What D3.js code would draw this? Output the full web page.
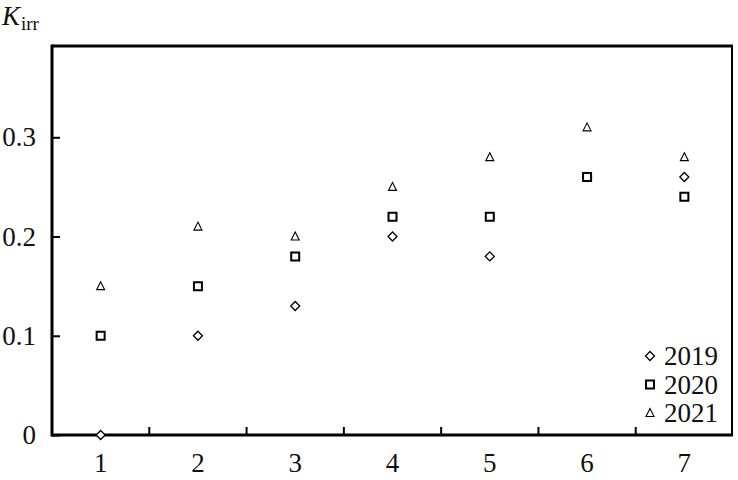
<!DOCTYPE html>
<html>
<head>
<meta charset="utf-8">
<script src="https://cdn.jsdelivr.net/npm/d3@7"></script>
<style>
  body { margin: 0; background: #fff; }
  svg { display: block; font-family: "Liberation Serif", "DejaVu Serif", serif; }
</style>
</head>
<body>
<svg id="chart" width="738" height="480"></svg>
<script>
// data
const categories = ["1", "2", "3", "4", "5", "6", "7"];
const years = ["2019", "2020", "2021"];
const k2019 = [0.00, 0.10, 0.13, 0.20, 0.18, 0.26, 0.26];
const k2020 = [0.10, 0.15, 0.18, 0.22, 0.22, 0.26, 0.24];
const k2021 = [0.15, 0.21, 0.20, 0.25, 0.28, 0.31, 0.28];
const yTicks = [0, 0.1, 0.2, 0.3];

const series = [
  { name: years[0], values: k2019, shape: "diamond" },
  { name: years[1], values: k2020, shape: "square" },
  { name: years[2], values: k2021, shape: "triangle" }
];

const svg = d3.select("#chart");

// plot frame
const plotLeft = 52, plotRight = 733, plotTop = 46, plotBottom = 435;

const x = d3.scaleBand().domain(categories).range([plotLeft, plotRight]);
const y = d3.scaleLinear().domain([0, 0.392]).range([plotBottom, plotTop]);

// marker paths
function markerPath(shape) {
  if (shape === "diamond") return "M0,-4.5L4.5,0L0,4.5L-4.5,0Z";
  if (shape === "square") return "M-4,-4H4V4H-4Z";
  return "M0,-4.5L4,3.5H-4Z";
}
const markerStroke = { diamond: 1.3, square: 2, triangle: 1.1 };

// frame lines
svg.append("line").attr("x1", plotLeft).attr("x2", plotRight).attr("y1", plotTop).attr("y2", plotTop)
  .attr("stroke", "#000").attr("stroke-width", 3);
svg.append("line").attr("x1", plotRight - 1).attr("x2", plotRight - 1).attr("y1", plotTop).attr("y2", plotBottom)
  .attr("stroke", "#000").attr("stroke-width", 2);

// y axis, ticks pointing inward
const yAxis = svg.append("g")
  .attr("transform", `translate(${plotLeft},0)`)
  .call(d3.axisLeft(y).tickValues(yTicks).tickSize(-8).tickPadding(16)
    .tickFormat(d => d === 0 ? "0" : d3.format(".1f")(d)));
yAxis.select(".domain").remove();
yAxis.selectAll(".tick line").attr("stroke-width", 2);
yAxis.selectAll(".tick text").attr("font-size", 27).attr("fill", "#111")
  .attr("font-family", "Liberation Serif");

// x axis: labels under categories, ticks between them
const xAxis = svg.append("g")
  .attr("transform", `translate(0,${plotBottom})`)
  .call(d3.axisBottom(x).tickSize(0).tickPadding(18));
xAxis.select(".domain").remove();
xAxis.selectAll(".tick text").attr("font-size", 27).attr("fill", "#111")
  .attr("font-family", "Liberation Serif");

svg.selectAll(".xsep")
  .data(categories.slice(0, -1))
  .join("line")
  .attr("class", "xsep")
  .attr("x1", d => x(d) + x.bandwidth())
  .attr("x2", d => x(d) + x.bandwidth())
  .attr("y1", plotBottom)
  .attr("y2", plotBottom - 8)
  .attr("stroke", "#000")
  .attr("stroke-width", 2);

// axis lines
svg.append("line").attr("x1", plotLeft).attr("x2", plotLeft).attr("y1", plotTop - 1.5).attr("y2", plotBottom + 1.5)
  .attr("stroke", "#000").attr("stroke-width", 3);
svg.append("line").attr("x1", plotLeft).attr("x2", plotRight).attr("y1", plotBottom).attr("y2", plotBottom)
  .attr("stroke", "#000").attr("stroke-width", 3);

// points
series.forEach(s => {
  svg.selectAll(".pt-" + s.name)
    .data(s.values)
    .join("path")
    .attr("class", "pt-" + s.name)
    .attr("d", markerPath(s.shape))
    .attr("transform", (d, i) => `translate(${x(categories[i]) + x.bandwidth() / 2},${y(d)})`)
    .attr("fill", "#fff")
    .attr("stroke", "#000")
    .attr("stroke-width", markerStroke[s.shape]);
});

// legend
const legend = svg.append("g").attr("transform", "translate(650,356)");
const item = legend.selectAll("g")
  .data(series)
  .join("g")
  .attr("transform", (d, i) => `translate(0,${i * 28.5})`);
item.append("path")
  .attr("d", d => markerPath(d.shape))
  .attr("fill", "#fff")
  .attr("stroke", "#000")
  .attr("stroke-width", d => markerStroke[d.shape]);
item.append("text")
  .attr("x", 14)
  .attr("y", 9)
  .attr("font-size", 27)
  .attr("fill", "#111")
  .text(d => d.name);

// y label K_irr
const lab = svg.append("text").attr("x", 2).attr("y", 25).attr("fill", "#111");
lab.append("tspan").attr("font-style", "italic").attr("font-size", 27).text("K");
lab.append("tspan").attr("font-size", 19).attr("dy", 5).attr("dx", 1).text("irr");
</script>
</body>
</html>
